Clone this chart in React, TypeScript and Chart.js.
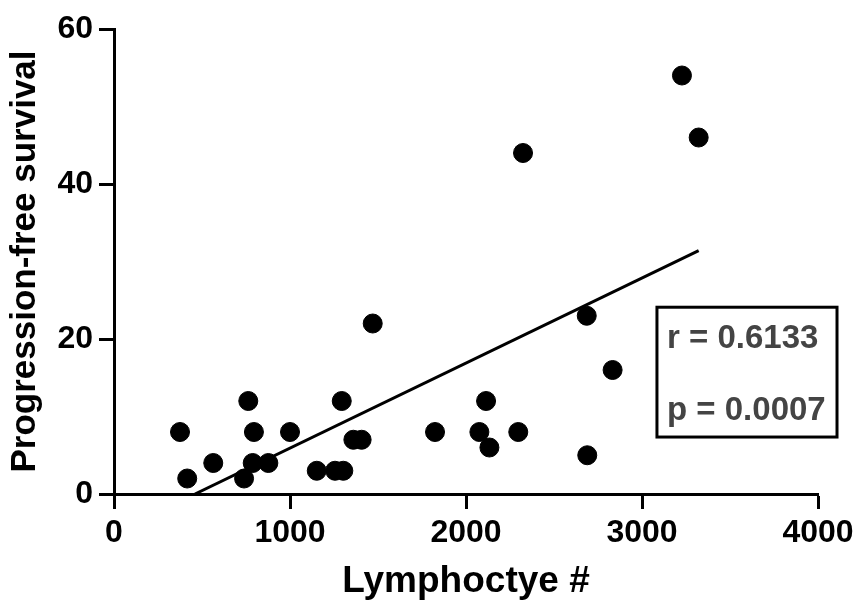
import React, { useEffect, useRef } from "react";
import { Chart, registerables } from "chart.js";

Chart.register(...registerables);

const lymphocytes = [375, 416, 564, 763, 795, 739, 788, 877, 1000, 1152, 1256, 1303, 1294, 1360, 1407, 1470, 1824, 2076, 2114, 2133, 2297, 2324, 2686, 2833, 2689, 3227, 3322];
const pfs = [8, 2, 4, 12, 8, 2, 4, 4, 8, 3, 3, 3, 12, 7, 7, 22, 8, 8, 12, 6, 8, 44, 23, 16, 5, 54, 46];
const fitX = [460, 3322];
const fitY = [0, 31.4];
const statLines = ["r = 0.6133", "p = 0.0007"];
const xTitle = "Lymphoctye #";
const yTitle = "Progression-free survival";

const FONT = "'Liberation Sans', Arial, sans-serif";

const statBox = {
  id: "statBox",
  afterDraw(chart: any) {
    const { ctx, scales } = chart;
    const xs = scales.x;
    const ys = scales.y;
    const l = xs.getPixelForValue(3085);
    const r = xs.getPixelForValue(4108);
    const t = ys.getPixelForValue(24.1);
    const b = ys.getPixelForValue(7.35);
    ctx.save();
    ctx.strokeStyle = "#000";
    ctx.lineWidth = 3;
    ctx.strokeRect(l, t, r - l, b - t);
    ctx.fillStyle = "#444";
    ctx.font = `bold 33px ${FONT}`;
    ctx.textAlign = "left";
    ctx.textBaseline = "middle";
    const tx = xs.getPixelForValue(3142);
    ctx.fillText(statLines[0], tx, ys.getPixelForValue(20.0));
    ctx.fillText(statLines[1], tx, ys.getPixelForValue(10.7));
    ctx.restore();
  },
};

export default function App() {
  const ref = useRef<HTMLCanvasElement | null>(null);
  useEffect(() => {
    if (!ref.current) return;
    const chart = new Chart(ref.current, {
      type: "scatter",
      data: {
        datasets: [
          {
            type: "scatter",
            data: lymphocytes.map((x, i) => ({ x, y: pfs[i] })),
            backgroundColor: "#000",
            borderColor: "#000",
            pointRadius: 9.5,
            pointHoverRadius: 9.5,
            clip: false,
          },
          {
            type: "line",
            data: fitX.map((x, i) => ({ x, y: fitY[i] })),
            borderColor: "#000",
            borderWidth: 3,
            pointRadius: 0,
            fill: false,
          } as any,
        ],
      },
      options: {
        animation: false,
        responsive: false,
        devicePixelRatio: 1,
        layout: { padding: { left: 0, top: 29, right: 37, bottom: 0 } },
        plugins: { legend: { display: false }, tooltip: { enabled: false } },
        scales: {
          x: {
            type: "linear",
            min: 0,
            max: 4000,
            afterFit: (s: any) => { s.height = 110; s.paddingLeft = 0; s.paddingRight = 0; },
            ticks: { stepSize: 1000, color: "#000", font: { family: FONT, weight: "bold", size: 32 }, padding: 5, maxRotation: 0, callback: (v: any) => String(v) },
            grid: { display: true, drawOnChartArea: false, drawTicks: true, tickLength: 15, tickWidth: 3, tickColor: "#000" },
            border: { display: true, width: 3, color: "#000" },
            title: { display: true, text: xTitle, color: "#000", font: { family: FONT, weight: "bold", size: 37 }, padding: { top: 0, bottom: 0 } },
          },
          y: {
            type: "linear",
            min: 0,
            max: 60,
            afterFit: (s: any) => { s.width = 114; s.paddingTop = 0; s.paddingBottom = 0; },
            ticks: { stepSize: 20, color: "#000", font: { family: FONT, weight: "bold", size: 32 }, padding: 6, callback: (v: any) => String(v) },
            grid: { display: true, drawOnChartArea: false, drawTicks: true, tickLength: 15, tickWidth: 3, tickColor: "#000" },
            border: { display: true, width: 3, color: "#000" },
            title: { display: true, text: yTitle, color: "#000", font: { family: FONT, weight: "bold", size: 35 }, padding: { top: 4, bottom: 0 } },
          },
        },
      },
      plugins: [statBox],
    } as any);
    return () => chart.destroy();
  }, []);
  return (
    <div style={{ position: "fixed", left: 0, top: 0, width: 855, height: 604, background: "#fff" }}>
      <canvas ref={ref} width={855} height={604} />
    </div>
  );
}
